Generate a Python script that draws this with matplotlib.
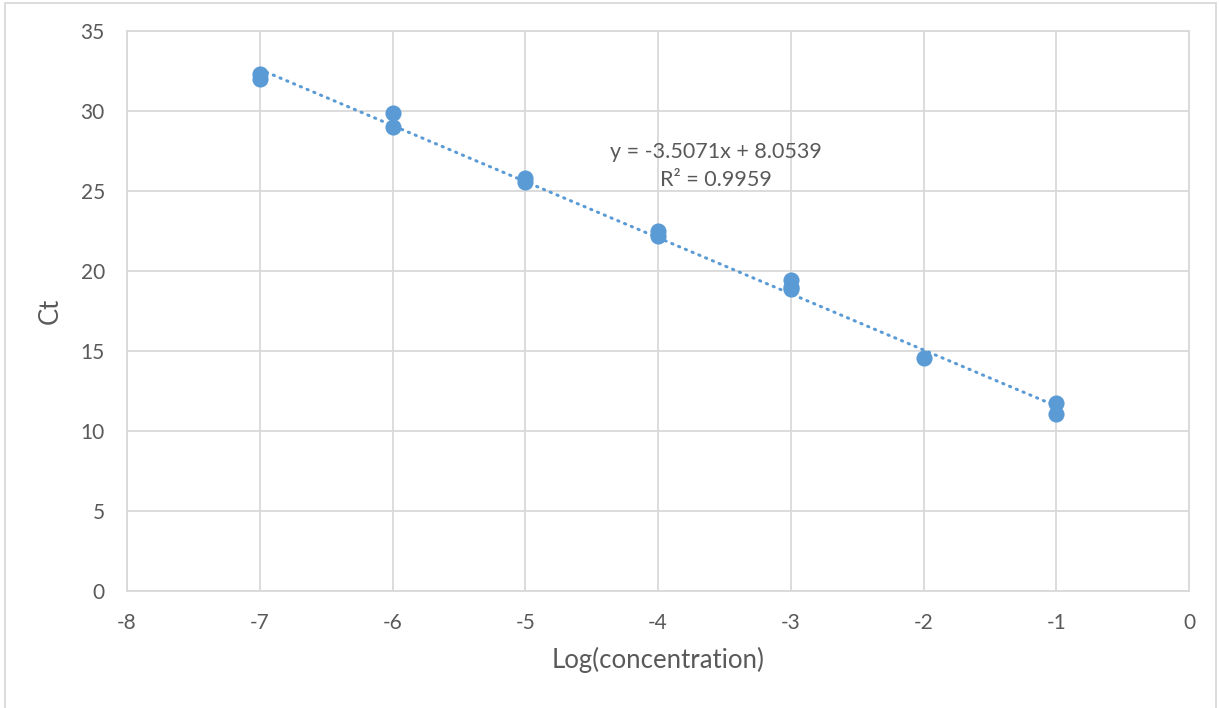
import numpy as np
import matplotlib.pyplot as plt
from matplotlib.patches import Rectangle

# standard curve data (log concentration vs Ct)
log_conc = [-7, -7, -6, -6, -5, -5, -4, -4, -3, -3, -3, -2, -1, -1]
ct = [32.3, 32.0, 29.85, 29.0, 25.8, 25.55, 22.5, 22.2, 19.45, 19.0, 18.85, 14.55, 11.75, 11.05]

slope = -3.5071
intercept = 8.0539
r2 = 0.9959

x_ticks = list(range(-8, 1))
y_ticks = list(range(0, 36, 5))

blue = '#5B9BD5'
grid_col = '#D9D9D9'
text_col = '#595959'

plt.rcParams['font.family'] = ['Lato', 'DejaVu Sans']
plt.rcParams['axes.unicode_minus'] = False

fig = plt.figure(figsize=(12.19, 7.08), dpi=100)
ax = fig.add_axes([127/1219, 1 - 591/708, (1189 - 127)/1219, (591 - 31)/708])

ax.scatter(log_conc, ct, s=135, color=blue, zorder=3, linewidths=0)

fit_x = np.array([min(log_conc), max(log_conc)])
ax.plot(fit_x, slope * fit_x + intercept, color=blue, lw=2.2,
        dashes=(0.4, 2.0), dash_capstyle='round', zorder=2)

ax.text(-3.563, 27.44, f'y = {slope}x + {intercept}', ha='center', va='center',
        fontsize=15.5, color=text_col)
ax.text(-3.563, 25.69, f'R² = {r2}', ha='center', va='center',
        fontsize=15.5, color=text_col)

ax.set_xlim(-8, 0)
ax.set_ylim(0, 35)
ax.set_xticks(x_ticks)
ax.set_yticks(y_ticks)
ax.grid(True, color=grid_col, lw=1.3)
ax.set_axisbelow(True)
for sp in ax.spines.values():
    sp.set_color(grid_col)
    sp.set_linewidth(1.3)
ax.tick_params(length=0, labelsize=15, labelcolor=text_col, pad=16)

ax.set_xlabel('Log(concentration)', fontsize=18.5, color=text_col, labelpad=10)
ax.set_ylabel('Ct', fontsize=18.5, color=text_col, labelpad=13)

# outer chart border
fig.patches.append(Rectangle((5/1219, -0.05), 1211/1219, 1.05 - 3/708,
                             transform=fig.transFigure, fill=False,
                             edgecolor=grid_col, lw=1.3))

fig.savefig('out.png', dpi=100)
